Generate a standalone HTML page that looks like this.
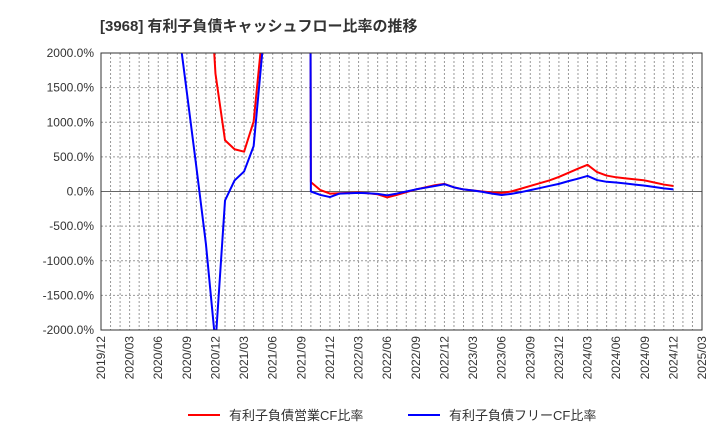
<!DOCTYPE html>
<html><head><meta charset="utf-8"><style>
body{margin:0;background:#fff;width:720px;height:440px;overflow:hidden;font-family:"Liberation Sans","Noto Sans CJK JP",sans-serif}
</style></head><body>
<svg width="720" height="440" xmlns="http://www.w3.org/2000/svg" id="chart">
<text x="100" y="31" font-size="15" font-weight="bold" fill="#333" font-family="Liberation Sans, Noto Sans CJK JP, sans-serif">[3968]  有利子負債キャッシュフロー比率の推移</text>
<defs><clipPath id="pc"><rect x="101" y="53" width="601" height="277"/></clipPath></defs>
<rect x="101" y="53" width="601" height="277" fill="#fff"/>
<g id="grid"></g><g id="yt"></g><g id="xt"></g>
<g id="lines" clip-path="url(#pc)"></g>
<rect x="101" y="53" width="601" height="277" fill="none" stroke="#333" stroke-width="1"/>
<g>
<line x1="188" y1="415" x2="220" y2="415" stroke="#f00" stroke-width="2"/>
<text x="229" y="420" font-size="13" fill="#333">有利子負債営業CF比率</text>
<line x1="408" y1="415" x2="440" y2="415" stroke="#00f" stroke-width="2"/>
<text x="449" y="420" font-size="13" fill="#333">有利子負債フリーCF比率</text>
</g>
</svg>
<script>
const startMonth = 8; // months after 2019/12
const redValues = [5000,5000,5000,4000,1700,740,610,575,1010,2400,30000,30000,30000,60000,135,20,-30,-25,-20,-15,-25,-40,-85,-50,-10,30,60,90,110,60,30,15,0,-15,-20,0,40,80,120,160,210,270,330,385,280,230,205,190,175,160,130,100,80];
const blueValues = [2500,1430,350,-760,-2200,-130,160,290,655,2150,30000,30000,30000,60000,0,-50,-80,-30,-25,-20,-25,-35,-55,-30,0,30,55,80,105,60,30,15,-5,-30,-50,-35,-10,20,50,80,110,150,185,225,165,140,130,115,100,85,65,45,30];
const yTicks = [2000,1500,1000,500,0,-500,-1000,-1500,-2000];
const xLabels = ["2019/12","2020/03","2020/06","2020/09","2020/12","2021/03","2021/06","2021/09","2021/12","2022/03","2022/06","2022/09","2022/12","2023/03","2023/06","2023/09","2023/12","2024/03","2024/06","2024/09","2024/12","2025/03"];
const NS="http://www.w3.org/2000/svg";
const X0=101,X1=702,Y0=53,Y1=330,totalMonths=63;
const xs=m=>X0+(X1-X0)*m/totalMonths;
const ys=v=>Y1-(v+2000)/4000*(Y1-Y0);
function mk(t,a){const e=document.createElementNS(NS,t);for(const k in a)e.setAttribute(k,a[k]);return e;}
const grid=document.getElementById('grid');
for(let m=1;m<totalMonths;m++){
 const l=mk('line',{x1:xs(m),x2:xs(m),y1:Y0,y2:Y1,stroke:'#999','stroke-dasharray':'2,2','stroke-width':1});
 
 
 grid.appendChild(l);}
const yt=document.getElementById('yt');
yTicks.forEach(v=>{
 const l=mk('line',{x1:X0,x2:X1,y1:ys(v),y2:ys(v),stroke:v===0?'#666':'#999','stroke-dasharray':v===0?'':'2,2','stroke-width':1});
 
 
 grid.appendChild(l);
 const t=mk('text',{x:94,y:ys(v)+4,'font-size':12,fill:'#333','text-anchor':'end'});
 
 
 t.textContent=v.toFixed(1)+'%';yt.appendChild(t);});
const xt=document.getElementById('xt');
xLabels.forEach((s,i)=>{
 const x=xs(i*3),y=336;
 const t=mk('text',{x:x+4,y:y,'font-size':12,fill:'#333','text-anchor':'end',transform:`rotate(-90 ${x+4} ${y})`});
 
 
 t.textContent=s;xt.appendChild(t);});
const lines=document.getElementById('lines');
[[redValues,'#f00','operating-cf-line'],[blueValues,'#00f','free-cf-line']].forEach(([vals,c,n])=>{
 const pts=vals.map((v,i)=>xs(startMonth+i).toFixed(2)+','+ys(v).toFixed(2)).join(' ');
 const p=mk('polyline',{points:pts,fill:'none',stroke:c,'stroke-width':2,'stroke-linejoin':'round'});
 
 
 lines.appendChild(p);});
</script>
</body></html>
